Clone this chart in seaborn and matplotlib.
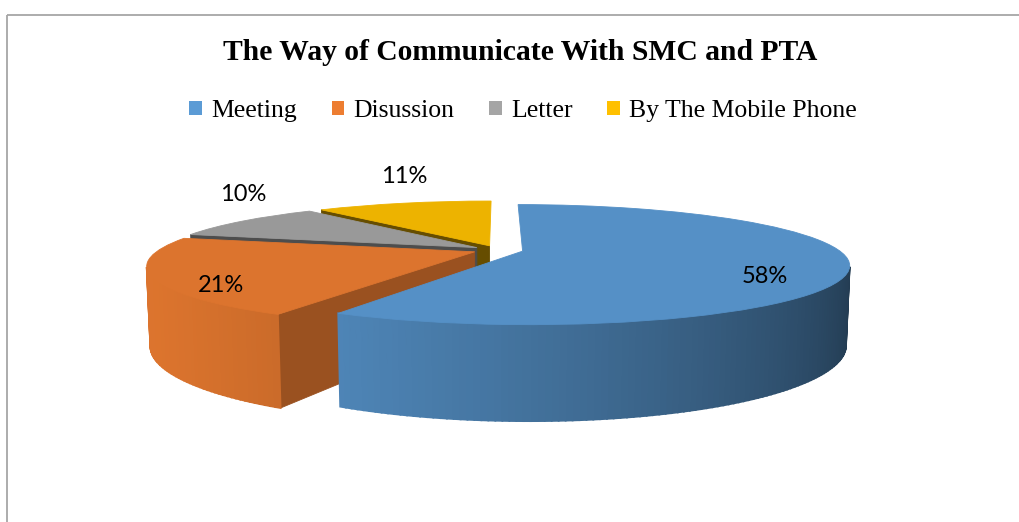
import numpy as np
import matplotlib
matplotlib.use("Agg")
import matplotlib.pyplot as plt
import matplotlib.transforms as mtransforms
from matplotlib.colors import to_rgb
from matplotlib.patches import Patch, Rectangle
import seaborn as sns

# chart data
categories = ["Meeting", "Disussion", "Letter", "By The Mobile Phone"]
shares = [58, 21, 10, 11]
palette = ["#5B9BD5", "#ED7D31", "#A5A5A5", "#FFC000"]
title = "The Way of Communicate With SMC and PTA"

sns.set_theme(style="white")
plt.rcParams["font.family"] = ["Liberation Serif", "DejaVu Sans"]
plt.rcParams["text.color"] = "black"

W, H = 1019, 522
fig = plt.figure(figsize=(W / 100, H / 100), dpi=100)
ax = fig.add_axes([0, 0, 1, 1])

# simple perspective camera to fake Excel's 3-D pie
CX, CY = 498, 250          # screen position of pie centre (px)
DIST = 4.4                 # camera distance, in pie radii
FOCAL = 316 * DIST
ELEV = np.radians(10.3)
THICK = 0.245              # pie thickness, in radii
EXPLODE = 0.08
CAM = np.array([0.0, -DIST * np.cos(ELEV), DIST * np.sin(ELEV)])


def project(x, y, z):
    x, y, z = np.broadcast_arrays(np.asarray(x, float), np.asarray(y, float),
                                  np.asarray(z, float))
    depth = DIST + y * np.cos(ELEV) - z * np.sin(ELEV)
    up = y * np.sin(ELEV) + z * np.cos(ELEV)
    return CX + FOCAL * x / depth, CY - FOCAL * up / depth


def depth_of(x, y, z):
    return DIST + y * np.cos(ELEV) - z * np.sin(ELEV)


class TopFace(mtransforms.Transform):
    """maps pie coordinates (radius 1) onto the tilted top surface"""
    input_dims = output_dims = 2

    def transform_non_affine(self, values):
        values = np.asarray(values, float)
        sx, sy = project(values[:, 0], values[:, 1], 0.0)
        return np.column_stack([sx, sy])


def shade(color, k):
    return tuple(np.clip(np.array(to_rgb(color)) * k, 0, 1))


fracs = np.array(shares, float) / sum(shares)
ends = 90 - 360 * np.cumsum(fracs)
starts = ends + 360 * fracs
mids = (starts + ends) / 2

# collect the side walls, then paint far-to-near
walls = []
for i in range(len(shares)):
    m = np.radians(mids[i])
    ox, oy = EXPLODE * np.cos(m), EXPLODE * np.sin(m)
    base = palette[i]

    # curved outer wall in thin strips
    th = np.radians(np.linspace(starts[i], ends[i], int(abs(starts[i] - ends[i])) + 2))
    for t0, t1 in zip(th[:-1], th[1:]):
        tm = (t0 + t1) / 2
        px, py = ox + np.cos(tm), oy + np.sin(tm)
        normal = np.array([np.cos(tm), np.sin(tm), 0.0])
        if normal @ (CAM - np.array([px, py, -THICK / 2])) <= 0:
            continue
        xs = np.array([ox + np.cos(t0), ox + np.cos(t1), ox + np.cos(t1), ox + np.cos(t0)])
        ys = np.array([oy + np.sin(t0), oy + np.sin(t1), oy + np.sin(t1), oy + np.sin(t0)])
        zs = np.array([0, 0, -THICK, -THICK])
        light = np.cos(tm - np.radians(200))
        k = 0.33 + 0.6 * (light + 1) / 2
        walls.append((depth_of(px, py, -THICK / 2), xs, ys, zs, shade(base, k), 1.3))

    # flat radial faces
    for ang, side in ((starts[i], 90), (ends[i], -90)):
        a = np.radians(ang)
        nrm = np.radians(ang + side)
        cxm, cym = ox + 0.5 * np.cos(a), oy + 0.5 * np.sin(a)
        normal = np.array([np.cos(nrm), np.sin(nrm), 0.0])
        if normal @ (CAM - np.array([cxm, cym, -THICK / 2])) <= 0.1:
            continue
        xs = np.array([ox, ox + np.cos(a), ox + np.cos(a), ox])
        ys = np.array([oy, oy + np.sin(a), oy + np.sin(a), oy])
        zs = np.array([0, 0, -THICK, -THICK])
        k = 0.4 + 0.25 * max(0.0, np.cos(nrm - np.radians(-30)))
        walls.append((depth_of(cxm, cym, -THICK / 2), xs, ys, zs, shade(base, k), 0.6))

walls.sort(key=lambda w: -w[0])
for n, (_, xs, ys, zs, col, lw) in enumerate(walls):
    sx, sy = project(xs, ys, zs)
    ax.fill(sx, sy, color=col, ec=col, lw=lw, zorder=2 + n * 1e-4)

# top faces: the real pie, bent onto the tilted plane
wedges, _ = ax.pie(shares, colors=[shade(c, 0.93) for c in palette],
                   startangle=90, counterclock=False, radius=1,
                   explode=[EXPLODE] * len(shares),
                   wedgeprops=dict(linewidth=0.6))
top = TopFace() + ax.transData
for w, c in zip(wedges, palette):
    w.set_transform(top)
    w.set_edgecolor(shade(c, 0.93))
    w.set_zorder(5)

ax.set_aspect("auto")
ax.set_xlim(0, W)
ax.set_ylim(H, 0)
ax.axis("off")

# percentage labels
for i, v in enumerate(shares):
    m = np.radians(mids[i])
    ox, oy = EXPLODE * np.cos(m), EXPLODE * np.sin(m)
    if v >= 15:
        r = 0.75 if v > 50 else 0.8
        lx, ly = project(ox + r * np.cos(m), oy + r * np.sin(m), 0.0)
        ax.annotate(f"{v}%", (lx, ly), xytext=(0, -10), textcoords="offset points",
                    ha="center", va="center", fontsize=17, family="Lato",
                    color="black", zorder=10)
    else:
        lx, ly = project(ox + np.cos(m), oy + np.sin(m), 0.0)
        ax.annotate(f"{v}%", (lx, ly), xytext=(0, 19), textcoords="offset points",
                    ha="center", va="center", fontsize=17, family="Lato",
                    color="black", zorder=10)

# chart area border (runs off the right and bottom of the crop)
ax.add_patch(Rectangle((7.5, 14.5), W, H, fill=False, ec="#a6a6a6", lw=1.3,
                       zorder=1, clip_on=False))

fig.text(520 / W, 1 - 53 / H, title, ha="center", va="center",
         fontsize=21.3, fontweight="bold", color="black")

handles = [Patch(facecolor=c, edgecolor="none") for c in palette]
fig.legend(handles, categories, loc="center", bbox_to_anchor=(523 / W, 1 - 111 / H),
           ncol=4, frameon=False, fontsize=18.5, handlelength=0.5, handleheight=0.5,
           handletextpad=0.35, columnspacing=1.35, borderaxespad=0,
           labelcolor="black")

fig.savefig("out.png", dpi=100)
